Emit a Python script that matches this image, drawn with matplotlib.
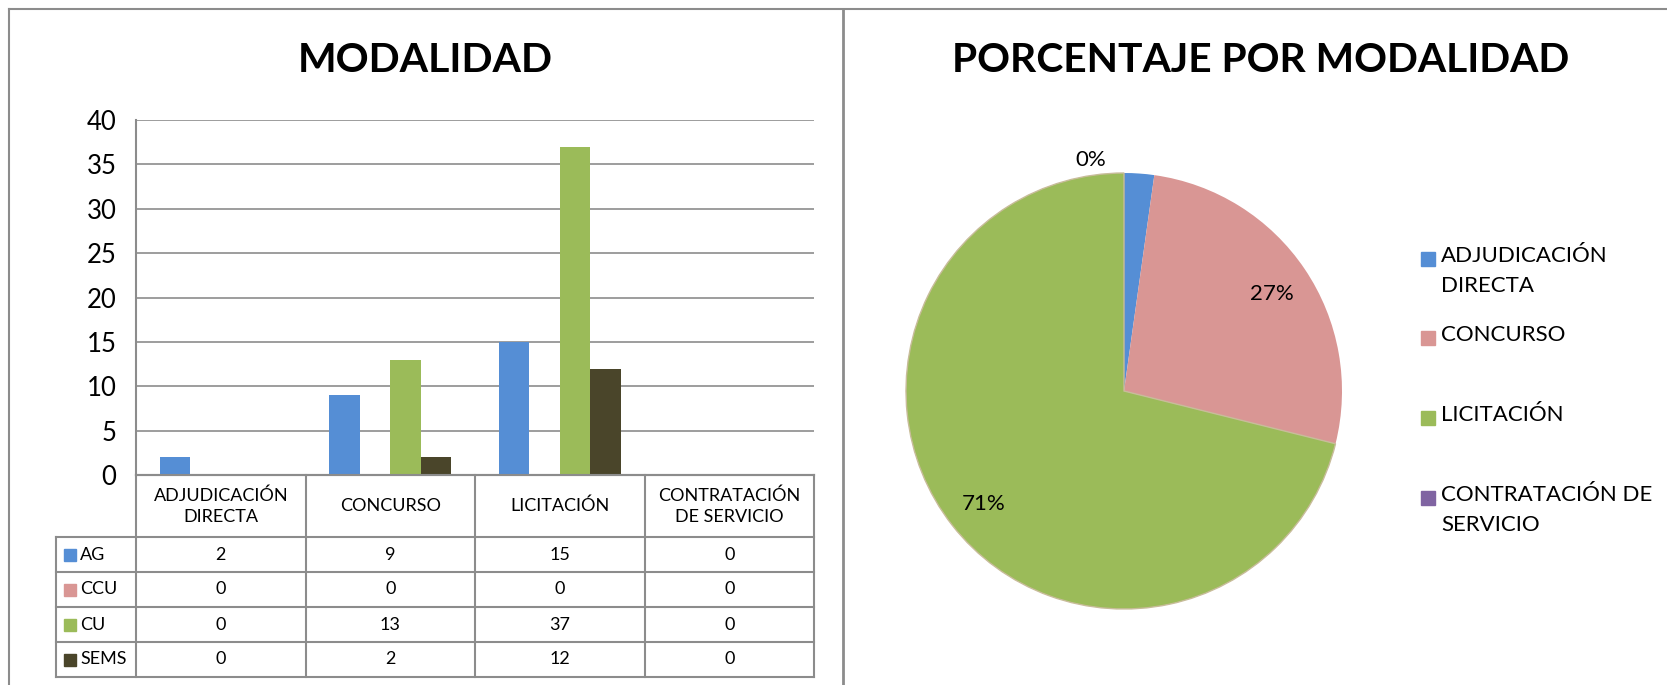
import matplotlib
matplotlib.use("Agg")
import matplotlib.pyplot as plt
from matplotlib.lines import Line2D
from matplotlib.patches import Rectangle
import numpy as np

# --- Data ---
categorias = ["ADJUDICACIÓN\nDIRECTA", "CONCURSO", "LICITACIÓN", "CONTRATACIÓN\nDE SERVICIO"]
series = ["AG", "CCU", "CU", "SEMS"]
ag = [2, 9, 15, 0]
ccu = [0, 0, 0, 0]
cu = [0, 13, 37, 0]
sems = [0, 2, 12, 0]
y_ticks = [0, 5, 10, 15, 20, 25, 30, 35, 40]

pie_labels = ["ADJUDICACIÓN\nDIRECTA", "CONCURSO", "LICITACIÓN", "CONTRATACIÓN DE\nSERVICIO"]
pie_values = [2, 24, 64, 0]

serie_colors = ["#558ED5", "#D99694", "#9BBB59", "#4A452A"]
pie_colors = ["#558ED5", "#D99694", "#9BBB59", "#8064A2"]
GRID = "#8C8C8C"

plt.rcParams["font.family"] = ["Lato", "DejaVu Sans"]

W, H = 1667, 685
fig = plt.figure(figsize=(W / 100, H / 100), dpi=100)


def px_axes(x0, y0, x1, y1):
    """Axes from pixel box (top-left origin)."""
    return fig.add_axes([x0 / W, 1 - y1 / H, (x1 - x0) / W, (y1 - y0) / H])


# --- Panel frames ---
frame_kw = dict(color=GRID, lw=1.5, transform=fig.transFigure)
fig.add_artist(Line2D([9 / W, 1], [1 - 9 / H] * 2, **frame_kw))
fig.add_artist(Line2D([9 / W] * 2, [0, 1 - 9 / H], **frame_kw))
fig.add_artist(Line2D([843 / W] * 2, [0, 1 - 9 / H], color=GRID, lw=2, transform=fig.transFigure))

# --- Bar chart ---
ax = px_axes(136, 120, 814, 475)
data = np.array([ag, ccu, cu, sems])
x = np.arange(len(categorias))
bw = 0.18
for i, (vals, col) in enumerate(zip(data, serie_colors)):
    ax.bar(x + (i - 1.5) * bw, vals, bw, color=col, zorder=3)
ax.set_xlim(-0.5, len(categorias) - 0.5)
ax.set_ylim(0, 40)
ax.set_yticks(y_ticks)
ax.tick_params(axis="y", length=0, labelsize=18.5, pad=14)
ax.set_xticks([])
ax.grid(axis="y", color=GRID, lw=1.2, zorder=0)
for s in ["top", "right"]:
    ax.spines[s].set_visible(False)
ax.spines["left"].set_color(GRID)
ax.spines["left"].set_linewidth(1.5)
ax.spines["bottom"].set_color(GRID)
ax.spines["bottom"].set_linewidth(1.5)

fig.text(425 / W, 1 - 61 / H, "MODALIDAD", ha="center", va="center",
         fontsize=29.5, fontweight="bold")

# --- Data table under the bars ---
cat_px = (814 - 136) / len(categorias)
lab_w = (136 - 56) / cat_px  # row label column, in category units
tax = px_axes(56, 475, 814, 677)
n_rows = len(series)
hdr_h = 62 / 35  # header height in row units
x_left = -0.5 - lab_w
tax.set_xlim(x_left, len(categorias) - 0.5)
tax.set_ylim(n_rows, -hdr_h)
tax.axis("off")
line_kw = dict(color=GRID, lw=1.5, clip_on=False)
for c in range(len(categorias) + 1):
    tax.plot([c - 0.5, c - 0.5], [-hdr_h, n_rows], **line_kw)
tax.plot([x_left] * 2, [0, n_rows], **line_kw)
tax.plot([-0.5, len(categorias) - 0.5], [-hdr_h, -hdr_h], **line_kw)
for r in range(n_rows + 1):
    tax.plot([x_left, len(categorias) - 0.5], [r, r], **line_kw)

for c, cat in enumerate(categorias):
    tax.text(c, -hdr_h / 2, cat, ha="center", va="center", fontsize=13,
             linespacing=1.35)
for r, (name, col) in enumerate(zip(series, serie_colors)):
    tax.add_patch(Rectangle((x_left + 8 / cat_px, r + 0.5 - 6 / 35), 12 / cat_px, 12 / 35,
                            color=col, clip_on=False))
    tax.text(x_left + 24 / cat_px, r + 0.5, name, ha="left", va="center", fontsize=13)
    for c in range(len(categorias)):
        tax.text(c, r + 0.5, f"{data[r, c]}", ha="center", va="center", fontsize=13)

# --- Pie chart ---
cx, cy, rad = 1124, 391, 218
pax = px_axes(cx - rad, cy - rad, cx + rad, cy + rad)
wedges, _ = pax.pie(pie_values, colors=pie_colors, startangle=90, counterclock=False,
                    wedgeprops=dict(linewidth=0))
wedges[2].set_edgecolor("#C8BC9A")
wedges[2].set_linewidth(1.0)
pax.set_xlim(-1, 1)
pax.set_ylim(-1, 1)
pax.set_aspect("equal")

total = sum(pie_values)
for w, v in zip(wedges, pie_values):
    frac = v / total
    ang = np.deg2rad((w.theta1 + w.theta2) / 2)
    if v == 0:
        pax.text(-0.08, 1.06, "0%", ha="right", va="center", fontsize=16)
    elif frac >= 0.05:
        pax.text(0.82 * np.cos(ang), 0.82 * np.sin(ang) - 0.015, f"{frac:.0%}",
                 ha="center", va="center", fontsize=16)

fig.text(1261 / W, 1 - 61 / H, "PORCENTAJE POR MODALIDAD", ha="center", va="center",
         fontsize=29.3, fontweight="bold")

# --- Pie legend ---
leg_y = [259, 338, 418, 498]
for lab, col, y in zip(pie_labels, pie_colors, leg_y):
    fig.patches.append(Rectangle((1421 / W, 1 - (y + 7) / H), 14 / W, 14 / H,
                                 color=col, transform=fig.transFigure, figure=fig))
    fig.text(1441 / W, 1 - (y - 13) / H, lab, ha="left", va="top", fontsize=16,
             linespacing=1.62)

fig.savefig("out.png", dpi=100)
